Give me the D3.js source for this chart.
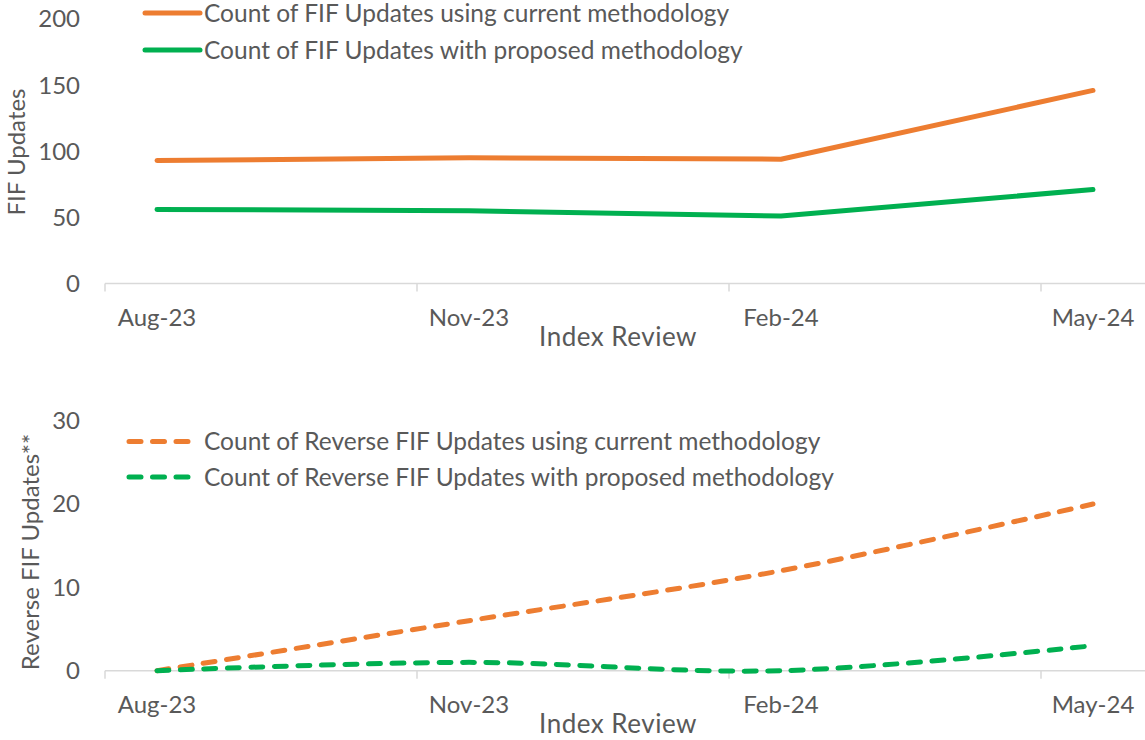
<!DOCTYPE html>
<html>
<head>
<meta charset="utf-8">
<script src="https://cdn.jsdelivr.net/npm/d3@7"></script>
<style>
  body { margin: 0; background: #fff; }
  text { font-family: Lato, "Open Sans", sans-serif; fill: #595959; }
</style>
</head>
<body>
<div id="chart"></div>
<script>
// Data
const reviews = ["Aug-23", "Nov-23", "Feb-24", "May-24"];
const currentUpdates = [93, 95, 94, 146];
const proposedUpdates = [56, 55, 51, 71];
const reverseCurrent = [0, 6, 12, 20];
const reverseProposed = [0, 1, 0, 3];
const topTicks = [0, 50, 100, 150, 200];
const bottomTicks = [0, 10, 20, 30];

const W = 1145, H = 740;
const orange = "#ED7D31", green = "#00B050";
const fontSize = 24;

const svg = d3.select("#chart")
    .append("svg")
    .attr("width", W)
    .attr("height", H);

const x = d3.scalePoint()
    .domain(reviews)
    .range([157, 1093]);

// ticks sit a little left of each point (Excel date axis)
const tickOffset = x.step() / 6;

function drawPanel(cfg) {
    const y = d3.scaleLinear()
        .domain(cfg.domain)
        .range([cfg.y0, cfg.y1]);

    const g = svg.append("g");

    // x axis line + ticks
    g.append("line")
        .attr("x1", 105).attr("x2", W)
        .attr("y1", y(0)).attr("y2", y(0))
        .attr("stroke", "#d9d9d9")
        .attr("stroke-width", 1.5);

    g.selectAll(".xtick")
        .data(reviews)
        .enter()
        .append("line")
        .attr("x1", d => x(d) - tickOffset)
        .attr("x2", d => x(d) - tickOffset)
        .attr("y1", y(0))
        .attr("y2", y(0) + 8)
        .attr("stroke", "#d9d9d9")
        .attr("stroke-width", 1.5);

    g.selectAll(".xlabel")
        .data(reviews)
        .enter()
        .append("text")
        .attr("x", d => x(d))
        .attr("y", y(0) + 42)
        .attr("text-anchor", "middle")
        .style("font-size", fontSize + "px")
        .text(d => d);

    // y tick labels (no axis line)
    g.selectAll(".ylabel")
        .data(cfg.ticks)
        .enter()
        .append("text")
        .attr("x", 80)
        .attr("y", d => y(d))
        .attr("dy", "0.35em")
        .attr("text-anchor", "end")
        .style("font-size", fontSize + "px")
        .text(d => d);

    // axis titles
    g.append("text")
        .attr("x", 618)
        .attr("y", y(0) + 62)
        .attr("text-anchor", "middle")
        .style("font-size", "26px")
        .style("letter-spacing", "0.5px")
        .text("Index Review");

    g.append("text")
        .attr("transform", `translate(${cfg.titleX},${cfg.titleY}) rotate(-90)`)
        .attr("text-anchor", "middle")
        .attr("dy", "0.35em")
        .style("font-size", fontSize + "px")
        .text(cfg.title);

    const line = d3.line()
        .x((d, i) => x(reviews[i]))
        .y(d => y(d))
        .curve(cfg.curve);

    cfg.series.forEach((s, k) => {
        g.append("path")
            .datum(s.values)
            .attr("d", line)
            .attr("fill", "none")
            .attr("stroke", s.color)
            .attr("stroke-width", 5)
            .attr("stroke-linecap", "round")
            .attr("stroke-linejoin", "round")
            .attr("stroke-dasharray", cfg.dash);

        // legend
        const ly = cfg.legendY + k * cfg.legendGap;
        g.append("line")
            .attr("x1", cfg.legendX1).attr("x2", cfg.legendX2)
            .attr("y1", ly).attr("y2", ly)
            .attr("stroke", s.color)
            .attr("stroke-width", 5)
            .attr("stroke-linecap", "round")
            .attr("stroke-dasharray", cfg.dash);

        g.append("text")
            .attr("x", 204)
            .attr("y", ly)
            .attr("dy", "0.35em")
            .style("font-size", "24.5px")
            .text(s.name);
    });
}

drawPanel({
    domain: [0, 200], y0: 283.5, y1: 19,
    ticks: topTicks,
    title: "FIF Updates", titleX: 17, titleY: 152,
    curve: d3.curveLinear,
    dash: null,
    legendY: 13, legendGap: 37, legendX1: 145, legendX2: 200,
    series: [
        { name: "Count of FIF Updates using current methodology", values: currentUpdates, color: orange },
        { name: "Count of FIF Updates with proposed methodology", values: proposedUpdates, color: green }
    ]
});

drawPanel({
    domain: [0, 30], y0: 670.7, y1: 420.7,
    ticks: bottomTicks,
    title: "Reverse FIF Updates**", titleX: 31, titleY: 552,
    curve: d3.curveCatmullRom.alpha(0),
    dash: "12,11.5",
    legendY: 441.5, legendGap: 35.5, legendX1: 129, legendX2: 190,
    series: [
        { name: "Count of Reverse FIF Updates using current methodology", values: reverseCurrent, color: orange },
        { name: "Count of Reverse FIF Updates with proposed methodology", values: reverseProposed, color: green }
    ]
});
</script>
</body>
</html>
